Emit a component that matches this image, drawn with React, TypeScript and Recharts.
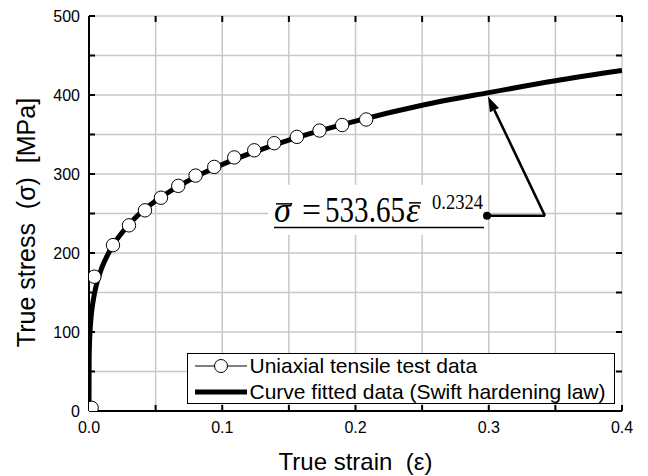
import React from 'react';
import {
  ComposedChart,
  Line,
  Scatter,
  XAxis,
  YAxis,
  CartesianGrid,
  ReferenceLine,
  Legend,
  Label,
} from 'recharts';

// ---- axis ticks ----
const X_TICKS = [0, 0.05, 0.1, 0.15, 0.2, 0.25, 0.3, 0.35, 0.4];
const X_LABELED = [0, 0.1, 0.2, 0.3, 0.4];
const Y_TICKS = [0, 50, 100, 150, 200, 250, 300, 350, 400, 450, 500];
const Y_LABELED = [0, 100, 200, 300, 400, 500];
const X_MIN = 0;
const X_MAX = 0.4;
const Y_MIN = 0;
const Y_MAX = 500;

// ---- uniaxial tensile test data ----
const TEST_STRAIN = [0.002, 0.004, 0.018, 0.03, 0.042, 0.054, 0.067, 0.08, 0.094, 0.109, 0.124, 0.139, 0.156, 0.173, 0.19, 0.208];
const TEST_STRESS = [4, 170, 210, 235, 254, 270, 285, 298, 309, 321, 330, 339, 347, 355, 362, 369];

// ---- curve fitted data (Swift hardening law) ----
const FIT_STRAIN = [0, 0.0001, 0.0002, 0.0005, 0.001, 0.002, 0.003, 0.005, 0.01, 0.015, 0.02, 0.03, 0.04, 0.05, 0.075, 0.1, 0.15, 0.2, 0.25, 0.3, 0.35, 0.4];
const FIT_STRESS = [0, 63, 74, 91, 107, 126, 138, 156, 183, 201, 215, 236, 253, 266, 292, 312, 343, 367, 387, 403, 418, 431];

// ---- texts ----
const LEGEND_LABELS = ['Uniaxial tensile test data', 'Curve fitted data (Swift hardening law)'];
const X_TITLE = 'True strain  (\u03b5)';
const Y_TITLE = 'True stress  (\u03c3)  [MPa]';
const EQ_LHS = '\u03c3';
const EQ_SIGN = '=';
const EQ_COEF = '533.65';
const EQ_VAR = '\u03b5';
const EQ_EXP = '0.2324';

// ---- annotation anchor points (data units) ----
const EQ_DOT = { x: 0.2987, y: 247 };
const ARROW_ELBOW = { x: 0.3422, y: 247 };
const ARROW_TIP = { x: 0.2994, y: 398 };

const testData = TEST_STRAIN.map((x, i) => ({ x, y: TEST_STRESS[i] }));
const fitData = FIT_STRAIN.map((x, i) => ({ x, y: FIT_STRESS[i] }));

const SANS = '"Liberation Sans", Arial, sans-serif';
const SERIF = '"Liberation Serif", "Times New Roman", serif';

const has = (arr: number[], v: number) => arr.some((a) => Math.abs(a - v) < 1e-9);

const BottomTick = (p: any) => {
  const { x, y, payload } = p;
  const v = payload.value as number;
  if (!has(X_LABELED, v)) return <g />;
  return (
    <text x={x} y={y} dy="0.71em" textAnchor="middle" fontSize={16} fontFamily={SANS} fill="#000">
      {v.toFixed(1)}
    </text>
  );
};

const LeftTick = (p: any) => {
  const { x, y, payload } = p;
  const v = payload.value as number;
  if (!has(Y_LABELED, v)) return <g />;
  return (
    <text x={x} y={y} dy="0.355em" textAnchor="end" fontSize={16} fontFamily={SANS} fill="#000">
      {String(v)}
    </text>
  );
};

const CircleMark = (p: any) => {
  const { cx, cy } = p;
  if (cx == null || cy == null) return <g />;
  return <circle cx={cx} cy={cy} r={6.7} fill="#fff" stroke="#000" strokeWidth={1} />;
};

const XTitle = (p: any) => {
  const vb = p.viewBox || { x: 89, y: 411, width: 533, height: 65 };
  return (
    <text
      x={vb.x + vb.width / 2}
      y={vb.y + 50}
      dominantBaseline="central"
      textAnchor="middle"
      fontSize={24}
      fontFamily={SANS}
      fill="#000"
      xmlSpace="preserve"
      style={{ whiteSpace: 'pre' }}
    >
      {X_TITLE}
    </text>
  );
};

const YTitle = (p: any) => {
  const vb = p.viewBox || { x: 0, y: 16, width: 89, height: 395 };
  const cx = vb.x + 26;
  const cy = vb.y + vb.height / 2 + 9;
  return (
    <text
      x={cx}
      y={cy}
      transform={`rotate(-90 ${cx} ${cy})`}
      dominantBaseline="central"
      textAnchor="middle"
      fontSize={25}
      fontFamily={SANS}
      fill="#000"
      xmlSpace="preserve"
      style={{ whiteSpace: 'pre' }}
    >
      {Y_TITLE}
    </text>
  );
};

// Inward tick marks on all four sides. The shape gets the pixel corners of the
// plot (segment from (X_MIN,Y_MIN) to (X_MAX,Y_MAX)) and maps the tick values.
const FrameTicks = (p: any) => {
  const { x1, y1, x2, y2 } = p;
  if (x1 == null) return <g />;
  const px = (v: number) => x1 + ((v - X_MIN) / (X_MAX - X_MIN)) * (x2 - x1);
  const py = (v: number) => y1 + ((v - Y_MIN) / (Y_MAX - Y_MIN)) * (y2 - y1);
  const L = 6;
  return (
    <g>
      {X_TICKS.map((t) => (
        <g key={`x${t}`}>
          <line x1={px(t)} x2={px(t)} y1={y1} y2={y1 - L} stroke="#000" strokeWidth={2} />
          <line x1={px(t)} x2={px(t)} y1={y2} y2={y2 + L} stroke="#000" strokeWidth={2} />
        </g>
      ))}
      {Y_TICKS.map((t) => (
        <g key={`y${t}`}>
          <line x1={x1} x2={x1 + L} y1={py(t)} y2={py(t)} stroke="#000" strokeWidth={2} />
          <line x1={x2} x2={x2 - L} y1={py(t)} y2={py(t)} stroke="#000" strokeWidth={2} />
        </g>
      ))}
    </g>
  );
};

const EquationShape = (p: any) => {
  const { x1, y1, x2, y2 } = p;
  if (x1 == null) return <g />;
  const base = y1 + 6;
  return (
    <g>
      <rect x={x1 - 219} y={y1 - 31} width={216} height={50} fill="#fff" />
      <text x={x1 - 213} y={base} fontSize={36} fontFamily={SERIF} fontStyle="italic" fill="#000" textLength={17} lengthAdjust="spacingAndGlyphs">
        {EQ_LHS}
      </text>
      <line x1={x1 - 211} x2={x1 - 195} y1={y1 - 12} y2={y1 - 12} stroke="#000" strokeWidth={1.5} />
      <text x={x1 - 185} y={base} fontSize={36} fontFamily={SERIF} fill="#000" textLength={19} lengthAdjust="spacingAndGlyphs">
        {EQ_SIGN}
      </text>
      <text x={x1 - 162} y={base} fontSize={36} fontFamily={SERIF} fill="#000" textLength={80} lengthAdjust="spacingAndGlyphs">
        {EQ_COEF}
      </text>
      <text x={x1 - 81} y={base} fontSize={36} fontFamily={SERIF} fontStyle="italic" fill="#000" textLength={14} lengthAdjust="spacingAndGlyphs">
        {EQ_VAR}
      </text>
      <line x1={x1 - 78} x2={x1 - 66} y1={y1 - 13} y2={y1 - 13} stroke="#000" strokeWidth={1.5} />
      <text x={x1 - 55} y={y1 - 7} fontSize={22} fontFamily={SERIF} fill="#000" textLength={51} lengthAdjust="spacingAndGlyphs">
        {EQ_EXP}
      </text>
      <line x1={x1 - 213} x2={x1 - 3} y1={y1 + 11.6} y2={y1 + 11.6} stroke="#000" strokeWidth={1.5} />
      <line x1={x1} y1={y1} x2={x2} y2={y2} stroke="#000" strokeWidth={2.5} />
      <circle cx={x1} cy={y1} r={4} fill="#000" />
    </g>
  );
};

const ArrowShape = (p: any) => {
  const { x1, y1, x2, y2 } = p;
  if (x1 == null) return <g />;
  const dx = x2 - x1;
  const dy = y2 - y1;
  const len = Math.sqrt(dx * dx + dy * dy);
  const ux = dx / len;
  const uy = dy / len;
  const hl = 15;
  const hw = 5;
  const bx = x2 - ux * hl;
  const by = y2 - uy * hl;
  const nx = -uy;
  const ny = ux;
  return (
    <g>
      <line x1={x1} y1={y1} x2={bx} y2={by} stroke="#000" strokeWidth={2.5} />
      <polygon points={`${x2},${y2} ${bx + nx * hw},${by + ny * hw} ${bx - nx * hw},${by - ny * hw}`} fill="#000" />
    </g>
  );
};

const LegendBox = () => (
  <div
    style={{
      width: 428,
      height: 51,
      boxSizing: 'border-box',
      border: '1.5px solid #000',
      background: '#fff',
      position: 'relative',
      fontFamily: SANS,
      fontSize: 21,
      color: '#000',
      lineHeight: '26px',
    }}
  >
    {LEGEND_LABELS.map((label, i) => (
      <div
        key={label}
        style={{ position: 'absolute', left: 6.5, top: i === 0 ? -1.5 : 25, height: 26, display: 'flex', alignItems: 'center', whiteSpace: 'nowrap' }}
      >
        <svg width={52} height={26} style={{ display: 'block' }}>
          {i === 0 ? (
            <g>
              <line x1={0} x2={52} y1={13} y2={13} stroke="#000" strokeWidth={1} />
              <circle cx={26} cy={13} r={6.5} fill="#fff" stroke="#000" strokeWidth={1} />
            </g>
          ) : (
            <line x1={0} x2={52} y1={13} y2={13} stroke="#000" strokeWidth={5} />
          )}
        </svg>
        <span style={{ marginLeft: 3 }}>{label}</span>
      </div>
    ))}
  </div>
);

export default function App() {
  return (
    <div style={{ position: 'absolute', left: 0, top: 0, width: 648, height: 476, background: '#fff' }}>
      <ComposedChart width={648} height={476} margin={{ top: 16, right: 26, bottom: 0, left: 0 }}>
        <CartesianGrid stroke="#c8c8c8" strokeWidth={1.5} />
        <XAxis
          xAxisId={0}
          dataKey="x"
          type="number"
          domain={[X_MIN, X_MAX]}
          allowDataOverflow
          ticks={X_TICKS}
          interval={0}
          height={65}
          tickSize={0}
          tickMargin={11}
          tickLine={false}
          tick={<BottomTick />}
          axisLine={{ stroke: '#000', strokeWidth: 2 }}
        >
          <Label content={<XTitle />} />
        </XAxis>
        <XAxis
          xAxisId="top"
          orientation="top"
          dataKey="x"
          type="number"
          domain={[X_MIN, X_MAX]}
          allowDataOverflow
          ticks={X_TICKS}
          height={0}
          tickLine={false}
          tick={false}
          axisLine={{ stroke: '#000', strokeWidth: 2 }}
        />
        <YAxis
          yAxisId={0}
          type="number"
          domain={[Y_MIN, Y_MAX]}
          allowDataOverflow
          ticks={Y_TICKS}
          interval={0}
          width={89}
          tickSize={0}
          tickMargin={9}
          tickLine={false}
          tick={<LeftTick />}
          axisLine={{ stroke: '#000', strokeWidth: 2 }}
        >
          <Label content={<YTitle />} />
        </YAxis>
        <YAxis
          yAxisId="right"
          orientation="right"
          type="number"
          domain={[Y_MIN, Y_MAX]}
          allowDataOverflow
          ticks={Y_TICKS}
          width={0}
          tickLine={false}
          tick={false}
          axisLine={{ stroke: '#000', strokeWidth: 2 }}
        />
        <Legend
          layout="horizontal"
          verticalAlign="middle"
          align="center"
          content={() => <LegendBox />}
          wrapperStyle={{ position: 'absolute', left: 187, top: 353, width: 428, height: 51, margin: 0, padding: 0 }}
        />
        <ReferenceLine
          xAxisId={0}
          yAxisId={0}
          segment={[{ x: X_MIN, y: Y_MIN }, { x: X_MAX, y: Y_MAX }]}
          ifOverflow="visible"
          shape={(p: any) => <FrameTicks {...p} />}
        />
        <Scatter
          data={testData}
          dataKey="y"
          xAxisId={0}
          yAxisId={0}
          shape={<CircleMark />}
          isAnimationActive={false}
        />
        <Line
          data={fitData}
          dataKey="y"
          xAxisId={0}
          yAxisId={0}
          type="monotone"
          stroke="#000"
          strokeWidth={5}
          dot={false}
          activeDot={false}
          isAnimationActive={false}
        />
        <ReferenceLine
          xAxisId={0}
          yAxisId={0}
          segment={[EQ_DOT, ARROW_ELBOW]}
          shape={(p: any) => <EquationShape {...p} />}
        />
        <ReferenceLine
          xAxisId={0}
          yAxisId={0}
          segment={[ARROW_ELBOW, ARROW_TIP]}
          shape={(p: any) => <ArrowShape {...p} />}
        />
      </ComposedChart>
    </div>
  );
}
